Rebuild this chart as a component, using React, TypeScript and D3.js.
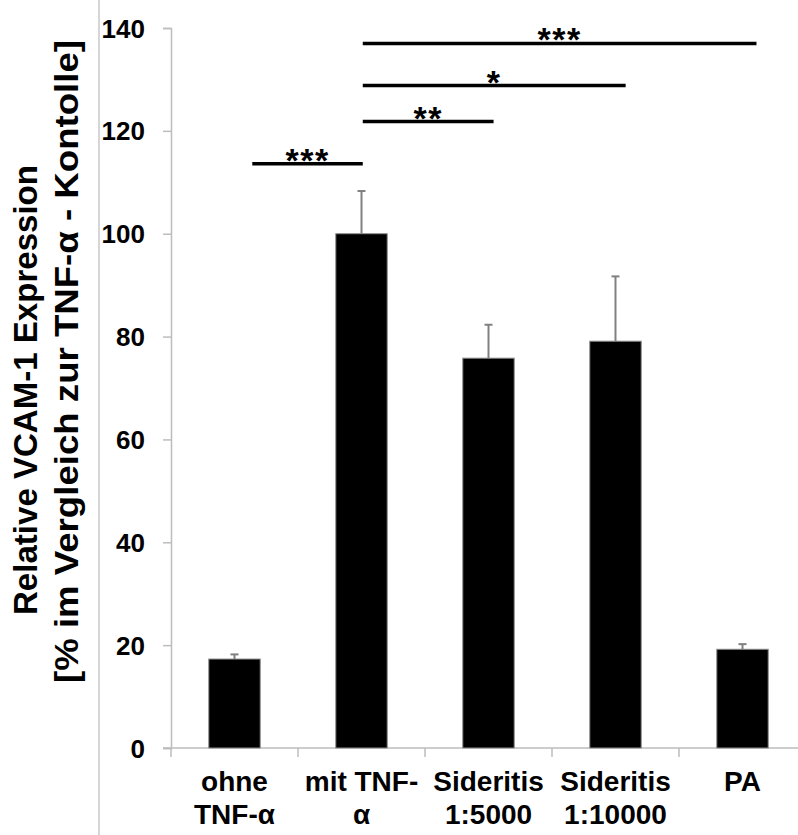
import React, { useEffect, useRef } from "react";
import * as d3 from "d3";

// bar chart data
const categories = ["ohne", "mit", "sid5000", "sid10000", "pa"];
const categoryLabels = [
  ["ohne", "TNF-α"],
  ["mit TNF-", "α"],
  ["Sideritis", "1:5000"],
  ["Sideritis", "1:10000"],
  ["PA", ""],
];
const means = [17.3, 100, 75.8, 79.1, 19.2];
const errors = [0.9, 8.3, 6.5, 12.6, 1.0];
const yTicks = [0, 20, 40, 60, 80, 100, 120, 140];

// significance brackets: start/end in category units, height in y units
const sigFrom = [0.14, 1.01, 1.01, 1.01];
const sigTo = [1.01, 2.04, 3.08, 4.11];
const sigLevel = [113.6, 121.8, 128.8, 137.0];
const sigText = ["***", "**", "*", "***"];

const yTitle = ["Relative VCAM-1 Expression", "[% im Vergleich zur TNF-α - Kontolle]"];

const FONT = "'Liberation Sans', Arial, sans-serif";

export default function App() {
  const svgRef = useRef<SVGSVGElement>(null);

  useEffect(() => {
    const svg = d3.select(svgRef.current);
    svg.selectAll("*").remove();

    const axisX = 171;
    const baseY = 748;

    const xScale = d3
      .scaleBand()
      .domain(categories)
      .range([axisX, 806])
      .paddingInner(0.595)
      .paddingOuter(0.2975);
    const yScale = d3.scaleLinear().domain([0, 140]).range([baseY, 28]);

    const step = xScale.step();
    const bw = xScale.bandwidth();
    const center0 = (xScale(categories[0]) as number) + bw / 2;
    const catPos = (v: number) => center0 + v * step;

    // frame line on the left
    svg
      .append("line")
      .attr("x1", 99)
      .attr("x2", 99)
      .attr("y1", 0)
      .attr("y2", 835)
      .attr("stroke", "#c8c8c8")
      .attr("stroke-width", 1.5);

    // y axis
    const yAxis = d3
      .axisLeft(yScale)
      .tickValues(yTicks)
      .tickSize(8)
      .tickPadding(18);
    const gy = svg
      .append("g")
      .attr("transform", `translate(${axisX},0)`)
      .call(yAxis);
    gy.select(".domain").attr("stroke", "#bdbdbd").attr("stroke-width", 1.5);
    gy.selectAll(".tick line").attr("stroke", "#bdbdbd").attr("stroke-width", 1.5);
    gy.selectAll(".tick text")
      .attr("font-family", FONT)
      .attr("font-weight", "bold")
      .attr("font-size", 26)
      .attr("fill", "#000")
      .attr("dy", "0.35em");

    // x axis line and ticks
    svg
      .append("line")
      .attr("x1", axisX - 8)
      .attr("x2", 798)
      .attr("y1", baseY)
      .attr("y2", baseY)
      .attr("stroke", "#bdbdbd")
      .attr("stroke-width", 1.5);
    const tickXs = categories.map((c) => (xScale(c) as number) - (xScale.paddingOuter() * step));
    svg
      .selectAll(".xtick")
      .data(tickXs.concat([tickXs[tickXs.length - 1] + step]))
      .enter()
      .append("line")
      .attr("x1", (d) => d)
      .attr("x2", (d) => d)
      .attr("y1", baseY)
      .attr("y2", baseY + 9)
      .attr("stroke", "#bdbdbd")
      .attr("stroke-width", 1.5);

    // bars
    svg
      .selectAll(".bar")
      .data(means)
      .enter()
      .append("rect")
      .attr("x", (d, i) => xScale(categories[i]) as number)
      .attr("y", (d) => yScale(d))
      .attr("width", bw)
      .attr("height", (d) => baseY - yScale(d))
      .attr("fill", "#000")
      .attr("stroke", "#8c8c8c")
      .attr("stroke-width", 1);

    // error bars (upper only)
    const eg = svg.append("g").attr("stroke", "#808080").attr("stroke-width", 2);
    means.forEach((m, i) => {
      const cx = (xScale(categories[i]) as number) + bw / 2;
      eg.append("line")
        .attr("x1", cx)
        .attr("x2", cx)
        .attr("y1", yScale(m))
        .attr("y2", yScale(m + errors[i]));
      eg.append("line")
        .attr("x1", cx - 4)
        .attr("x2", cx + 4)
        .attr("y1", yScale(m + errors[i]))
        .attr("y2", yScale(m + errors[i]));
    });

    // x labels
    categoryLabels.forEach((lines, i) => {
      const cx = (xScale(categories[i]) as number) + bw / 2;
      lines.forEach((t, j) => {
        svg
          .append("text")
          .attr("x", cx)
          .attr("y", 791 + j * 32.6)
          .attr("text-anchor", "middle")
          .attr("font-family", FONT)
          .attr("font-weight", "bold")
          .attr("font-size", 28)
          .text(t);
      });
    });

    // significance lines
    sigLevel.forEach((lv, i) => {
      const y = yScale(lv);
      const x1 = catPos(sigFrom[i]);
      const x2 = catPos(sigTo[i]);
      svg
        .append("line")
        .attr("x1", x1)
        .attr("x2", x2)
        .attr("y1", y)
        .attr("y2", y)
        .attr("stroke", "#000")
        .attr("stroke-width", 3.5);
      svg
        .append("text")
        .attr("x", (x1 + x2) / 2)
        .attr("y", y + 8)
        .attr("text-anchor", "middle")
        .attr("font-family", FONT)
        .attr("font-weight", "bold")
        .attr("font-size", 34)
        .attr("letter-spacing", 1.5)
        .text(sigText[i]);
    });

    // y title
    const titleBottom = [615, 683];
    const titleLen = [450, 643];
    const titleBase = [37, 78];
    yTitle.forEach((t, j) => {
      svg
        .append("text")
        .attr("transform", `translate(${titleBase[j]},${titleBottom[j]}) rotate(-90)`)
        .attr("font-family", FONT)
        .attr("font-weight", "bold")
        .attr("font-size", 34)
        .attr("textLength", titleLen[j])
        .attr("lengthAdjust", "spacingAndGlyphs")
        .text(t);
    });
  }, []);

  return (
    <svg
      ref={svgRef}
      width={798}
      height={835}
      style={{ position: "absolute", left: 0, top: 0, background: "#fff" }}
    />
  );
}
